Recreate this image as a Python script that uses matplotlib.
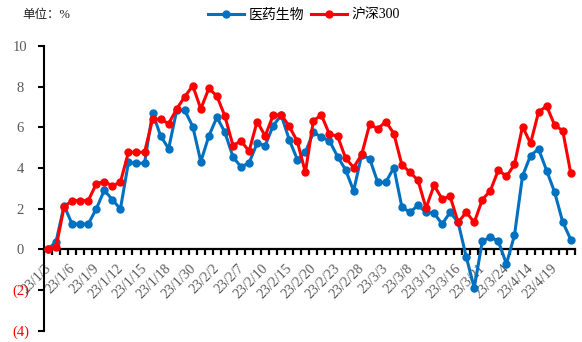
import matplotlib
matplotlib.use("Agg")
import matplotlib.pyplot as plt
from matplotlib.ticker import FixedLocator
from matplotlib.transforms import ScaledTranslation

# Weekly cumulative returns (%)
pharma = [0.00, 0.38, 2.14, 1.24, 1.24, 1.24, 1.99, 2.90, 2.44, 1.98,
          4.27, 4.23, 4.23, 6.72, 5.57, 4.95, 6.83, 6.83, 6.03, 4.31,
          5.57, 6.49, 5.75, 4.54, 4.05, 4.25, 5.21, 5.10, 6.08, 6.59,
          5.38, 4.41, 4.77, 5.75, 5.51, 5.33, 4.56, 3.91, 2.87, 4.64,
          4.45, 3.29, 3.29, 4.02, 2.08, 1.82, 2.16, 1.82, 1.78, 1.24,
          1.82, 1.32, -0.37, -1.89, 0.39, 0.61, 0.39, -0.72, 0.69, 3.60,
          4.61, 4.93, 3.87, 2.80, 1.34, 0.48]
hs300 = [0.00, 0.10, 2.10, 2.39, 2.39, 2.39, 3.22, 3.33, 3.12, 3.30,
         4.77, 4.77, 4.77, 6.39, 6.39, 6.18, 6.90, 7.50, 8.04, 6.90,
         7.91, 7.53, 6.54, 5.10, 5.33, 4.82, 6.28, 5.57, 6.59, 6.62,
         6.04, 5.30, 3.78, 6.33, 6.59, 5.65, 5.57, 4.48, 4.02, 4.66,
         6.15, 5.92, 6.28, 5.69, 4.15, 3.79, 3.40, 2.03, 3.14, 2.48,
         2.60, 1.32, 1.83, 1.32, 2.44, 2.88, 3.90, 3.58, 4.17, 6.03,
         5.21, 6.75, 7.04, 6.10, 5.83, 3.74]
date_labels = ["23/1/3", "23/1/6", "23/1/9", "23/1/12", "23/1/15", "23/1/18",
               "23/1/30", "23/2/2", "23/2/7", "23/2/10", "23/2/15", "23/2/20",
               "23/2/23", "23/2/28", "23/3/3", "23/3/8", "23/3/13", "23/3/16",
               "23/3/21", "23/3/24", "23/4/14", "23/4/19"]
y_ticks = [-4, -2, 0, 2, 4, 6, 8, 10]

BLUE = "#0070C0"
RED = "#FF0000"
GREY = "#595959"
SERIF = ["Liberation Serif", "Noto Sans CJK SC"]

plt.rcParams["font.family"] = SERIF

fig = plt.figure(figsize=(5.82, 3.42), dpi=100)
ax = fig.add_axes([0.0756, 0.033, 0.912, 0.833])

x = list(range(len(pharma)))
ax.plot(x, pharma, color=BLUE, lw=2.2, marker="o", ms=5, label="医药生物",
        solid_joinstyle="round", zorder=3)
ax.plot(x, hs300, color=RED, lw=2.2, marker="o", ms=5, label="沪深300",
        solid_joinstyle="round", zorder=4)

n = len(pharma)
ax.set_xlim(-0.5, n - 0.5)
ax.set_ylim(-4, 10)

ax.spines["bottom"].set_position(("data", 0))
ax.spines["bottom"].set_linewidth(1.6)
ax.spines["left"].set_linewidth(1.5)
ax.spines["top"].set_visible(False)
ax.spines["right"].set_visible(False)

# every third category is labelled; category boundaries carry the tick marks
label_pos = list(range(0, 3 * len(date_labels), 3))
ax.set_xticks(label_pos)
ax.set_xticklabels(date_labels)
ax.xaxis.set_minor_locator(FixedLocator([i - 0.5 for i in range(n + 1)]))
ax.tick_params(axis="x", which="major", length=0, pad=9, labelsize=10,
               labelcolor=GREY, labelrotation=45)
ax.tick_params(axis="x", which="minor", direction="out", length=4,
               width=1.6, color="black", zorder=5)

ax.set_yticks(y_ticks)
ax.set_yticklabels([f"({-v})" if v < 0 else f"{v}" for v in y_ticks])
ax.tick_params(axis="y", direction="out", length=4, width=1.5, pad=13,
               labelsize=10.5)

fig.canvas.draw()
shift = ScaledTranslation(-4 / 100, 0, fig.dpi_scale_trans)
for lbl in ax.get_xticklabels():
    lbl.set_rotation(45)
    lbl.set_horizontalalignment("right")
    lbl.set_verticalalignment("top")
    lbl.set_rotation_mode("anchor")
    lbl.set_transform(lbl.get_transform() + shift)
for lbl, v in zip(ax.get_yticklabels(), y_ticks):
    lbl.set_color(RED if v < 0 else GREY)
    lbl.set_horizontalalignment("center")

fig.text(0.038, 0.955, "单位：%", fontsize=9, color="#222222",
         family=SERIF, va="center", ha="left")

fig.legend(loc="center", bbox_to_anchor=(0.522, 0.955), ncol=2, frameon=False,
           handlelength=2.6, handletextpad=0.3, columnspacing=0.5,
           prop={"family": SERIF, "size": 10})

fig.savefig("out.png", dpi=100)
